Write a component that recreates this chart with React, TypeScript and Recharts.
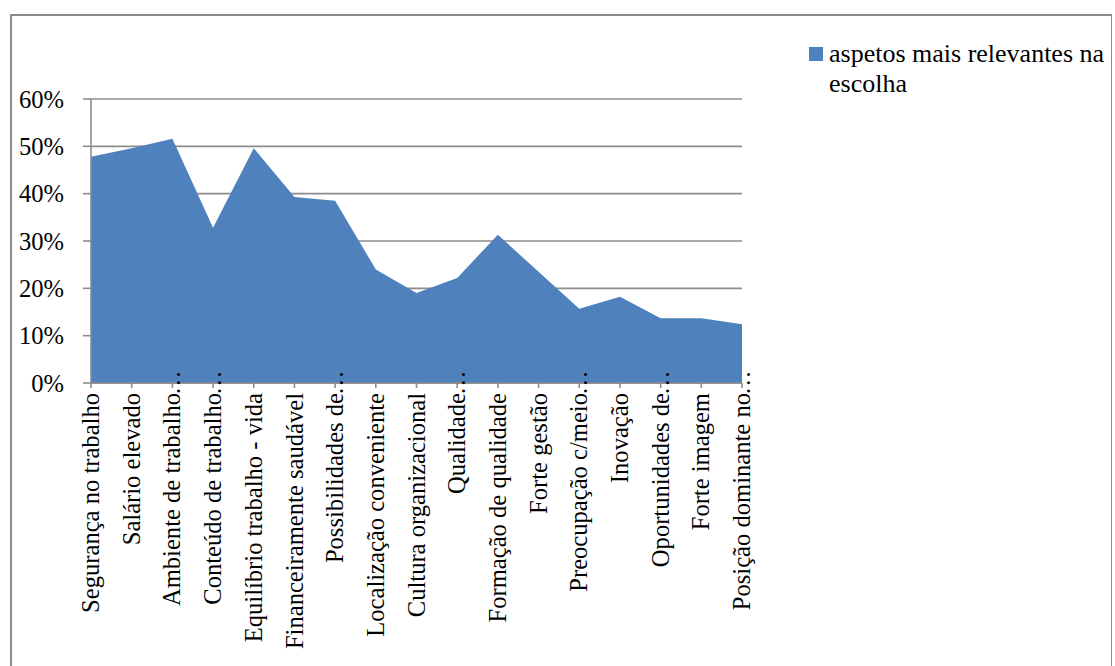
import React from "react";
import { AreaChart, Area, XAxis, YAxis, CartesianGrid, Legend } from "recharts";

// Aspects rated as most relevant when choosing an employer (share of respondents, %)
const categories = [
  "Segurança no trabalho",
  "Salário elevado",
  "Ambiente de trabalho…",
  "Conteúdo de trabalho…",
  "Equilíbrio trabalho - vida",
  "Financeiramente saudável",
  "Possibilidades de…",
  "Localização conveniente",
  "Cultura organizacional",
  "Qualidade…",
  "Formação de qualidade",
  "Forte gestão",
  "Preocupação c/meio…",
  "Inovação",
  "Oportunidades de…",
  "Forte imagem",
  "Posição dominante no…",
];

const relevance = [
  47.8, 49.6, 51.6, 32.8, 49.6, 39.3, 38.5, 24.0, 19.0, 22.2, 31.3, 23.5, 15.7,
  18.2, 13.7, 13.7, 12.4,
];

const yTicks = [0, 10, 20, 30, 40, 50, 60];

const seriesName = "aspetos mais relevantes na escolha";
const legendLines = ["aspetos mais relevantes na", "escolha"];

const data = categories.map((name, i) => ({ name, value: relevance[i] }));

const FONT = "'Liberation Serif', 'Times New Roman', serif";
const BLUE = "#4F81BD";
const GREY = "#8c8c8c";

// Vertical category label; a trailing ellipsis is drawn past the label's end
const CategoryTick = (props: any) => {
  const { x, y, payload } = props;
  const raw: string = payload.value;
  const cut = raw.endsWith("…");
  const text = cut ? raw.slice(0, -1) : raw;
  const ty = y + 1;
  return (
    <g>
      <text
        x={x}
        y={ty}
        transform={`rotate(-90, ${x}, ${ty})`}
        textAnchor="end"
        dy="0.33em"
        fontFamily={FONT}
        fontSize={24.6}
        fill="#000"
      >
        {text}
      </text>
      {cut && (
        <text
          x={x}
          y={ty + 2}
          transform={`rotate(-90, ${x}, ${ty + 2})`}
          textAnchor="start"
          dy="0.33em"
          fontFamily={FONT}
          fontSize={24.6}
          fill="#000"
        >
          …
        </text>
      )}
    </g>
  );
};

const PercentTick = (props: any) => {
  const { x, y, payload } = props;
  return (
    <text x={x} y={y} textAnchor="end" dy="0.35em" fontFamily={FONT} fontSize={24.6} fill="#000">
      {`${payload.value}%`}
    </text>
  );
};

// Legend drawn as SVG: a colour square and the wrapped series name
const LegendBox = () => (
  <svg width={305} height={72} style={{ display: "block" }}>
    <rect x={0} y={8} width={14} height={14} fill={BLUE} />
    {legendLines.map((l, i) => (
      <text key={l} x={20} y={23 + i * 30} fontFamily={FONT} fontSize={26} fill="#000">
        {l}
      </text>
    ))}
  </svg>
);

export default function App() {
  return (
    <div style={{ position: "absolute", left: 0, top: 0, width: 1115, height: 666, background: "#fff", overflow: "hidden" }}>
      <div
        style={{
          position: "absolute",
          left: 10,
          top: 14,
          width: 1102,
          height: 700,
          borderLeft: `2px solid ${GREY}`,
          borderTop: `2px solid ${GREY}`,
          borderRight: `1px solid ${GREY}`,
          boxSizing: "border-box",
        }}
      />
      <div style={{ position: "absolute", left: 0, top: 0 }}>
        <AreaChart
          width={1115}
          height={666}
          data={data}
          margin={{ top: 99, right: 373, bottom: 0, left: 0 }}
        >
          <CartesianGrid vertical={false} stroke={GREY} strokeWidth={1.6} />
          <Area
            type="linear"
            dataKey="value"
            name={seriesName}
            stroke="none"
            fill={BLUE}
            fillOpacity={1}
            isAnimationActive={false}
          />
          <YAxis
            width={91}
            domain={[0, 60]}
            ticks={yTicks}
            interval={0}
            axisLine={{ stroke: GREY, strokeWidth: 1.6 }}
            tickLine={{ stroke: GREY, strokeWidth: 1.6 }}
            tickSize={8}
            tickMargin={19}
            tick={<PercentTick />}
          />
          <XAxis
            dataKey="name"
            height={283}
            interval={0}
            axisLine={{ stroke: GREY, strokeWidth: 1.6 }}
            tickLine={{ stroke: GREY, strokeWidth: 1.6 }}
            tickSize={5}
            tickMargin={4}
            tick={<CategoryTick />}
          />
          <Legend
            layout="horizontal"
            verticalAlign="middle"
            align="center"
            wrapperStyle={{ position: "absolute", left: 809, top: 39, width: 305 }}
            content={<LegendBox />}
          />
        </AreaChart>
      </div>
    </div>
  );
}
